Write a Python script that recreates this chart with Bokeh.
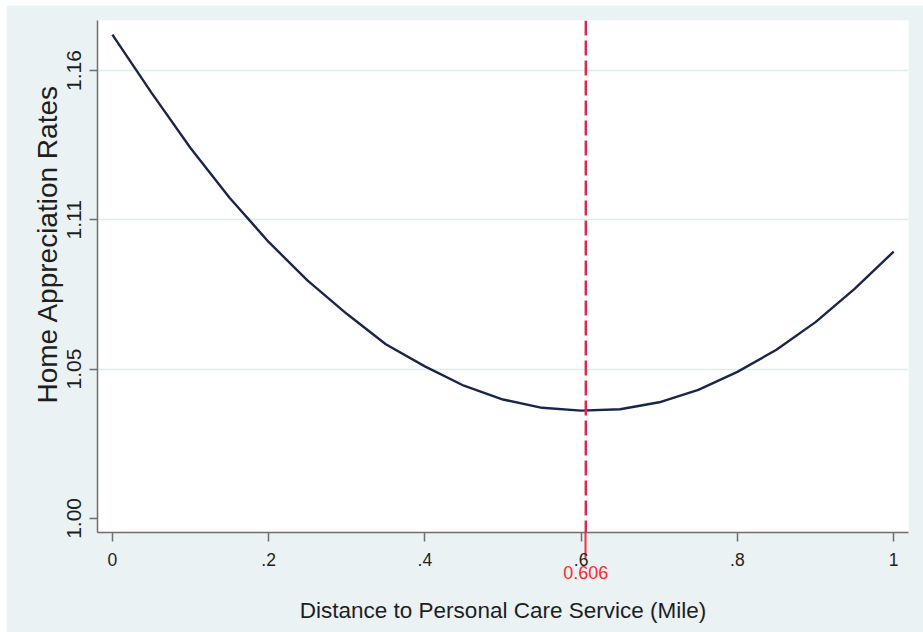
from bokeh.plotting import figure
from bokeh.models import (ColumnDataSource, FixedTicker, Span, LinearAxis,
                          Range1d, Spacer, Title)
from bokeh.layouts import column, row
from bokeh.embed import file_html
from bokeh.resources import INLINE

# ---- data ----
distance = [0.00, 0.05, 0.10, 0.15, 0.20, 0.25, 0.30, 0.35, 0.40, 0.45, 0.50,
            0.55, 0.60, 0.65, 0.70, 0.75, 0.80, 0.85, 0.90, 0.95, 1.00]
appreciation = [1.175, 1.154, 1.134, 1.116, 1.100, 1.086, 1.074, 1.063, 1.055,
                1.048, 1.043, 1.040, 1.039, 1.0395, 1.042, 1.0465, 1.053,
                1.061, 1.071, 1.083, 1.0965]
turning_point = 0.606
turning_label = "0.606"
x_ticks = [0, 0.2, 0.4, 0.6, 0.8, 1.0]
x_tick_labels = ["0", ".2", ".4", ".6", ".8", "1"]
y_ticks = [1.000, 1.054, 1.108, 1.162]
y_tick_labels = ["1.00", "1.05", "1.11", "1.16"]
x_title = "Distance to Personal Care Service (Mile)"
y_title = "Home Appreciation Rates"

BG = "#EAF2F3"
FONT = "Liberation Sans"
TXT = "#1E1E1E"
AXC = "#6E6E6E"

y_start, y_end = 0.9949, 1.1801
p = figure(width=917, height=627, output_backend="svg", toolbar_location=None,
           x_range=Range1d(-0.019, 1.019), y_range=Range1d(y_start, y_end),
           min_border_left=91, min_border_right=15, min_border_top=15,
           min_border_bottom=100)
p.background_fill_color = "white"
p.border_fill_color = BG
p.outline_line_color = None

src = ColumnDataSource(dict(x=distance, y=appreciation))
p.line("x", "y", source=src, line_color="#182649", line_width=2.4)

ya = p.yaxis[0]
ya.axis_line_color = AXC
ya.axis_line_width = 1.5
ya.major_tick_line_color = AXC
ya.major_tick_line_width = 1.5
ya.major_tick_out = 8
ya.major_tick_in = 0
ya.minor_tick_line_color = None
ya.major_label_text_font = FONT
ya.major_label_text_color = TXT
ya.ticker = FixedTicker(ticks=y_ticks)
ya.major_label_overrides = dict(zip(y_ticks, y_tick_labels))
ya.major_label_orientation = "vertical"
ya.major_label_text_font_size = "21px"
ya.major_label_standoff = 8

# main x axis; the turning point is drawn as a red minor tick
xa = p.xaxis[0]
xa.ticker = FixedTicker(ticks=x_ticks, minor_ticks=[turning_point])
xa.axis_line_color = AXC
xa.axis_line_width = 1.5
xa.major_tick_line_color = AXC
xa.major_tick_line_width = 1.5
xa.major_tick_out = 9
xa.major_tick_in = 0
xa.major_label_overrides = dict(zip(x_ticks, x_tick_labels))
xa.major_label_text_font = FONT
xa.major_label_text_color = TXT
xa.major_label_text_font_size = "17.5px"
xa.major_label_standoff = -6
xa.minor_tick_line_color = "#F0303A"
xa.minor_tick_line_width = 2
xa.minor_tick_out = 26
xa.minor_tick_in = 0

# second axis under it: red turning-point label + axis title
xb = LinearAxis(ticker=FixedTicker(ticks=[turning_point]),
                major_label_overrides={turning_point: turning_label})
xb.axis_line_color = None
xb.major_tick_line_color = None
xb.minor_tick_line_color = None
xb.major_tick_out = 0
xb.major_tick_in = 0
xb.major_label_standoff = -3
xb.major_label_text_font = FONT
xb.major_label_text_font_size = "18px"
xb.major_label_text_color = "#FF2A2A"
xb.axis_label = x_title
xb.axis_label_text_font = FONT
xb.axis_label_text_font_style = "normal"
xb.axis_label_text_font_size = "22.5px"
xb.axis_label_text_color = TXT
xb.axis_label_standoff = 16
p.add_layout(xb, "below")

p.add_layout(Title(text=y_title, align="left", offset=129, standoff=4,
                   text_font=FONT, text_font_size="28px",
                   text_font_style="normal", text_color=TXT), "left")

p.xgrid.grid_line_color = None
p.ygrid.ticker = FixedTicker(ticks=y_ticks[1:])
p.ygrid.grid_line_color = "#E0EBEE"
p.ygrid.grid_line_width = 1.5

p.add_layout(Span(location=turning_point, dimension="height",
                  line_color="#D62A55", line_width=2.5, line_dash="15 5"))

layout = column(Spacer(height=5), row(Spacer(width=6), p),
                styles={"background-color": "white"})
open("out.html", "w").write(file_html(layout, INLINE))
